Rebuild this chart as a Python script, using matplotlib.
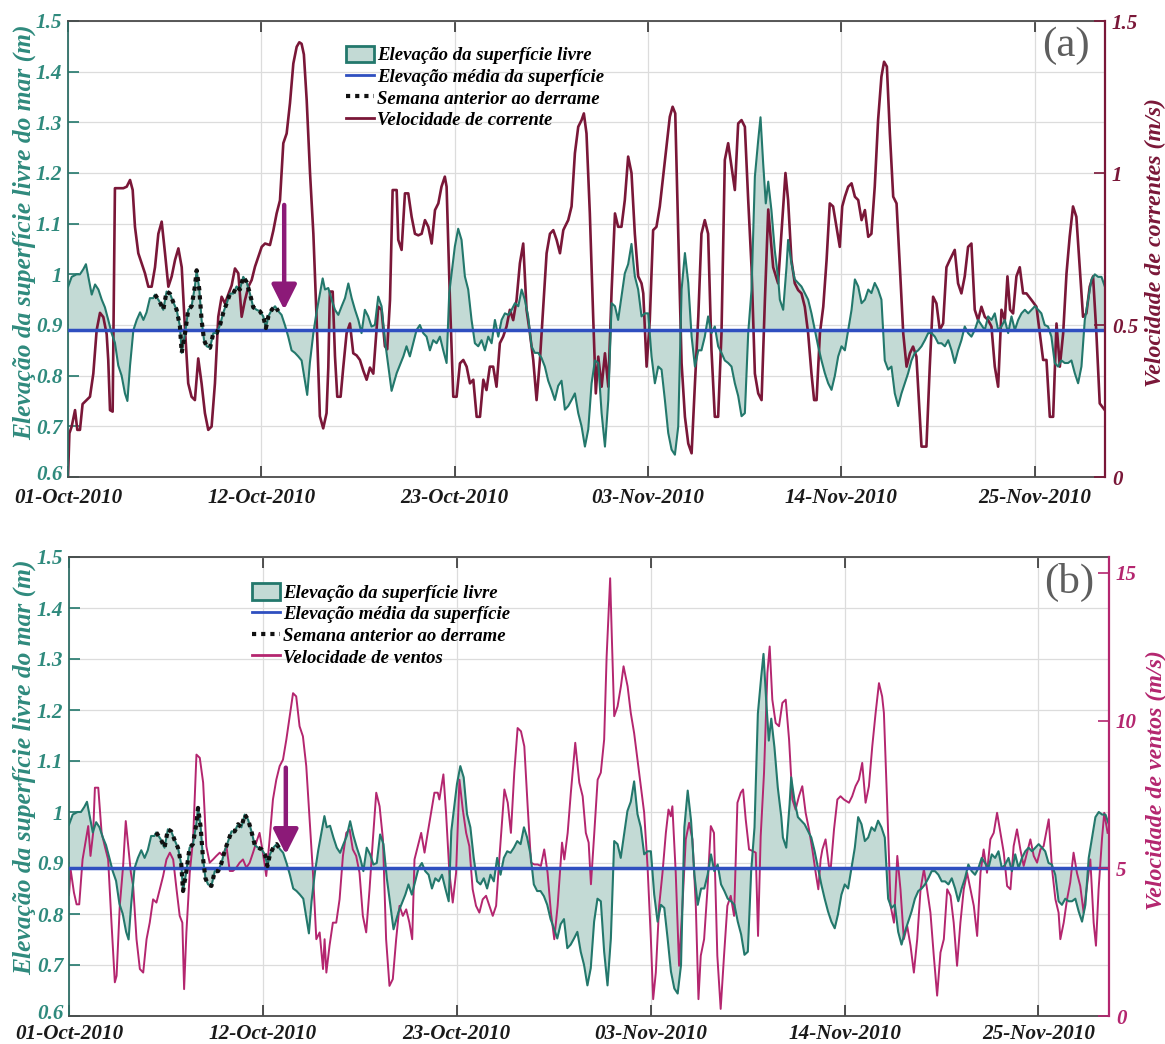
import numpy as np
import matplotlib
matplotlib.use("Agg")
import matplotlib.pyplot as plt
from matplotlib.patches import Patch
from matplotlib.lines import Line2D
from matplotlib.transforms import ScaledTranslation

# ---------------- data (days since 01-Oct-2010) ----------------
elev_days = [0.0, 0.21, 0.49, 0.68, 0.87, 1.02, 1.16, 1.35, 1.54, 1.73, 1.92, 2.10, 2.29, 2.48, 2.67, 2.86,
             3.05, 3.24, 3.38, 3.53, 3.72, 3.91, 4.10, 4.29, 4.47, 4.66, 4.85, 4.95, 5.23, 5.42, 5.61, 5.80,
             5.99, 6.18, 6.37, 6.47, 6.66, 6.84, 7.03, 7.22, 7.32, 7.47, 7.60, 7.74, 7.89, 8.08, 8.27, 8.46,
             8.65, 8.84, 9.03, 9.22, 9.40, 9.59, 9.78, 9.97, 10.16, 10.35, 10.54, 10.73, 10.92, 11.11, 11.26,
             11.40, 11.59, 11.78, 11.97, 12.15, 12.34, 12.53, 12.72, 12.91, 13.10, 13.29, 13.48, 13.61, 13.76,
             13.96, 14.14, 14.33, 14.49, 14.62, 14.81, 15.00, 15.19, 15.38, 15.57, 15.76, 15.95, 16.14, 16.33,
             16.52, 16.70, 16.89, 17.08, 17.27, 17.46, 17.65, 17.84, 18.03, 18.22, 18.41,
             18.70, 19.08, 19.26, 19.45, 19.64, 19.83, 20.02, 20.21, 20.40, 20.59, 20.78, 20.97, 21.16, 21.35,
             21.54, 21.69, 21.82, 22.01, 22.20, 22.39, 22.58, 22.77, 22.96, 23.15, 23.34, 23.53, 23.72, 23.91,
             24.10, 24.29, 24.48, 24.67, 24.86, 25.05, 25.24, 25.43, 25.62, 25.81, 25.99, 26.18, 26.37, 26.56,
             26.75, 26.94, 27.13, 27.32, 27.51, 27.70, 27.89, 28.08, 28.27, 28.46, 28.65, 28.84, 29.03, 29.22,
             29.41, 29.60, 29.79, 29.98, 30.17, 30.36, 30.55, 30.74, 30.93, 31.12, 31.30, 31.49, 31.68, 31.87,
             32.06, 32.25, 32.44, 32.63, 32.82, 33.01, 33.20, 33.39, 33.58, 33.77, 33.96, 34.15, 34.34, 34.53,
             34.72, 34.91, 35.10, 35.29, 35.48, 35.67, 35.86, 36.04, 36.23, 36.42, 36.61, 36.80, 36.99, 37.18,
             37.37, 37.56, 37.75, 37.94, 38.13, 38.32, 38.51, 38.70, 38.89, 39.08, 39.27, 39.40, 39.55, 39.70,
             39.84, 40.02, 40.21, 40.41,
             40.50, 40.69, 40.88, 40.97, 41.16, 41.35, 41.54, 41.73, 41.92, 42.11, 42.30, 42.49, 42.68, 42.87,
             43.06, 43.25, 43.44, 43.63, 43.82, 44.01, 44.20, 44.39, 44.58, 44.77, 44.96, 45.15, 45.34, 45.53,
             45.71, 45.90, 46.09, 46.28, 46.47, 46.66, 46.85, 47.04, 47.23, 47.42, 47.61, 47.80, 47.99, 48.18,
             48.37, 48.56, 48.75, 48.94, 49.13, 49.32, 49.51, 49.70, 49.89, 50.08, 50.27, 50.45, 50.64, 50.83,
             51.02, 51.21, 51.40, 51.59, 51.78, 51.97, 52.16, 52.35, 52.54, 52.73, 52.92, 53.11, 53.30, 53.49,
             53.68, 53.87, 54.06, 54.25, 54.44, 54.63, 54.82, 55.01, 55.20, 55.38, 55.57, 55.76, 55.95, 56.14,
             56.33, 56.52, 56.71, 56.90, 57.09, 57.28, 57.47, 57.66, 57.85, 58.04, 58.23, 58.42, 58.61, 58.80,
             58.99]
elev_m = [0.975, 0.995, 1.0, 1.0, 1.01, 1.02, 0.995, 0.96, 0.98, 0.97, 0.95, 0.935, 0.91, 0.884, 0.865, 0.82,
          0.80, 0.765, 0.75, 0.82, 0.89, 0.91, 0.925, 0.91, 0.925, 0.953, 0.953, 0.96, 0.945, 0.93, 0.966, 0.962,
          0.945, 0.93, 0.897, 0.845, 0.884, 0.93, 0.937, 0.976, 1.008, 0.97, 0.91, 0.87, 0.858, 0.855, 0.884, 0.884,
          0.90, 0.925, 0.943, 0.962, 0.962, 0.976, 0.97, 0.995, 0.985, 0.962, 0.935, 0.93, 0.927, 0.917, 0.894,
          0.917, 0.93, 0.937, 0.927, 0.92, 0.90, 0.877, 0.85, 0.845, 0.838, 0.83, 0.79, 0.762, 0.825,
          0.884, 0.925, 0.962, 0.992, 0.97, 0.973, 0.95, 0.93, 0.92, 0.937, 0.953, 0.982, 0.953, 0.93,
          0.91, 0.884, 0.93, 0.917, 0.897, 0.90, 0.956, 0.937, 0.87, 0.82, 0.77,
          0.805, 0.838, 0.858, 0.838, 0.864, 0.89, 0.90, 0.884, 0.877, 0.85, 0.87, 0.864, 0.877, 0.85,
          0.825, 0.963, 1.0, 1.055, 1.09, 1.068, 0.996, 0.97, 0.91, 0.864, 0.858, 0.87, 0.85, 0.877,
          0.864, 0.91, 0.877, 0.91, 0.923, 0.92, 0.93, 0.943, 0.937, 0.97, 0.95, 0.917, 0.858, 0.845,
          0.845, 0.835, 0.818, 0.79, 0.772, 0.752, 0.78, 0.79, 0.733, 0.74, 0.752, 0.765, 0.726, 0.70,
          0.66, 0.694, 0.785, 0.83, 0.825, 0.726, 0.66, 0.752, 0.943, 0.937, 0.91, 0.956, 1.002, 1.02,
          1.06, 0.996, 0.97, 0.917, 0.923, 0.923, 0.838, 0.785, 0.818, 0.812, 0.752, 0.687, 0.654, 0.644,
          0.70, 0.97, 1.042, 0.983, 0.877, 0.818, 0.85, 0.85, 0.877, 0.917, 0.884, 0.897, 0.858, 0.845,
          0.83, 0.825, 0.818, 0.785, 0.76, 0.72, 0.726, 0.884, 0.97, 1.193, 1.265, 1.31, 1.22, 1.14,
          1.183, 1.127, 1.048, 0.99,
          0.95, 0.93, 1.015, 1.068, 1.022, 0.99, 0.983, 0.976, 0.963, 0.95, 0.923, 0.89, 0.858, 0.83,
          0.805, 0.785, 0.772, 0.80, 0.838, 0.858, 0.85, 0.89, 0.93, 0.99, 0.976, 0.943, 0.95, 0.97,
          0.963, 0.983, 0.97, 0.95, 0.83, 0.812, 0.818, 0.765, 0.74, 0.765, 0.785, 0.805, 0.83, 0.845,
          0.85, 0.858, 0.87, 0.884, 0.884, 0.877, 0.864, 0.864, 0.858, 0.87, 0.85, 0.825, 0.85, 0.87,
          0.897, 0.884, 0.877, 0.89, 0.91, 0.90, 0.89, 0.917, 0.91, 0.923, 0.89, 0.897, 0.91, 0.884,
          0.917, 0.89, 0.91, 0.923, 0.93, 0.923, 0.93, 0.937, 0.93, 0.923, 0.90, 0.897, 0.877, 0.825,
          0.818, 0.83, 0.825, 0.825, 0.83, 0.805, 0.785, 0.818, 0.91, 0.95, 0.99, 1.0, 0.995, 0.995,
          0.976]

mean_elev = 0.89

cur_days = [0.0, 0.08, 0.21, 0.40, 0.53, 0.68, 0.83, 1.06, 1.25, 1.44, 1.63, 1.82, 2.01, 2.20, 2.29, 2.39,
            2.54, 2.67, 2.86, 3.15, 3.34, 3.53, 3.68, 3.81, 4.00, 4.19, 4.38, 4.57, 4.76, 4.95, 5.14, 5.33,
            5.52, 5.71, 5.90, 6.09, 6.28, 6.47, 6.66, 6.84, 7.03, 7.22, 7.41, 7.60, 7.79, 7.98, 8.17, 8.36,
            8.55, 8.74, 8.93, 9.12, 9.31, 9.50, 9.69, 9.88, 10.07, 10.26, 10.45, 10.64, 10.83, 11.02, 11.21,
            11.49, 11.68, 11.87, 12.06, 12.25, 12.44, 12.63, 12.82, 13.01, 13.16, 13.29, 13.42, 13.58, 13.77,
            13.96, 14.14, 14.33, 14.52, 14.71, 14.81, 14.90, 15.06, 15.19, 15.32, 15.51, 15.66, 15.85, 16.04,
            16.23, 16.42, 16.61, 16.80, 16.99, 17.18, 17.37, 17.65, 17.84, 18.03, 18.16, 18.32, 18.47, 18.70,
            18.79, 18.98, 19.17, 19.36, 19.55, 19.74, 19.93, 20.12, 20.31, 20.50, 20.69, 20.88, 21.07, 21.25,
            21.44, 21.54, 21.73, 21.92, 22.11, 22.30, 22.49, 22.68, 22.87, 23.06, 23.25, 23.44, 23.63, 23.81,
            24.00, 24.19, 24.38, 24.57, 24.76, 24.95, 25.14, 25.33, 25.52, 25.71, 25.90, 26.09, 26.28, 26.47,
            26.66, 26.85, 27.04, 27.23, 27.42, 27.61, 27.80, 27.99, 28.18, 28.27, 28.46, 28.65, 28.84, 29.03,
            29.22, 29.35, 29.50, 29.69, 29.88, 30.03, 30.17, 30.36, 30.55, 30.74, 30.93, 31.12, 31.30, 31.49,
            31.68, 31.87, 32.06, 32.25, 32.44, 32.63, 32.73, 32.92, 33.10, 33.29, 33.48, 33.67, 33.86, 34.05,
            34.24, 34.40, 34.55, 34.72, 34.91, 35.10, 35.29, 35.48, 35.67, 35.86, 36.04, 36.23, 36.42, 36.61,
            36.80, 36.99, 37.18, 37.37, 37.56, 37.75, 37.94, 38.13, 38.32, 38.51, 38.70, 38.89, 39.08, 39.27,
            39.46, 39.65, 39.84, 40.12, 40.40, 40.69, 40.82, 40.97, 41.16, 41.35, 41.54, 41.73, 41.92, 42.11,
            42.30, 42.45, 42.59, 42.78, 42.97, 43.16, 43.34, 43.53, 43.72, 43.91, 44.05, 44.20, 44.39, 44.58,
            44.77, 44.96, 45.15, 45.34, 45.53, 45.71, 45.90, 46.09, 46.28, 46.43, 46.59, 46.76, 46.95, 47.14,
            47.33, 47.52, 47.71, 47.90, 48.08, 48.27, 48.56, 48.84, 49.03, 49.22, 49.41, 49.60, 49.79, 49.98,
            50.17, 50.45, 50.64, 50.83, 51.02, 51.21, 51.40, 51.59, 51.78, 51.97, 52.16, 52.35, 52.54, 52.73,
            52.92, 53.11, 53.30, 53.45, 53.60, 53.77, 53.96, 54.15, 54.34, 54.53, 54.82, 55.10, 55.29, 55.48,
            55.67, 55.86, 56.05, 56.24, 56.43, 56.62, 56.81, 56.99, 57.18, 57.37, 57.56, 57.75, 57.94, 58.13,
            58.32, 58.51, 58.70, 58.99]
cur_ms = [0.0, 0.144, 0.166, 0.22, 0.155, 0.155, 0.24, 0.253, 0.264, 0.34, 0.483, 0.54, 0.526, 0.47, 0.385, 0.22,
          0.215, 0.95, 0.95, 0.95, 0.955, 0.977, 0.944, 0.823, 0.736, 0.703, 0.67, 0.626, 0.626, 0.69, 0.80, 0.84,
          0.736, 0.626, 0.66, 0.714, 0.752, 0.69, 0.483, 0.308, 0.264, 0.253, 0.39, 0.308, 0.21, 0.155, 0.166, 0.308,
          0.527, 0.593, 0.571, 0.60, 0.63, 0.686, 0.67, 0.527, 0.582, 0.626, 0.648, 0.692, 0.725, 0.757, 0.768,
          0.763, 0.81, 0.867, 0.91, 1.098, 1.13, 1.23, 1.36, 1.415, 1.43, 1.425, 1.39, 1.24, 1.0,
          0.80, 0.527, 0.2, 0.16, 0.21, 0.36, 0.61, 0.61, 0.397, 0.264, 0.264, 0.36, 0.473, 0.505,
          0.407, 0.40, 0.385, 0.35, 0.32, 0.36, 0.34, 0.56, 0.55, 0.43, 0.42, 0.582, 0.944, 0.944,
          0.78, 0.747, 0.933, 0.933, 0.856, 0.80, 0.795, 0.80, 0.845, 0.823, 0.768, 0.878, 0.90, 0.955,
          0.988, 0.955, 0.582, 0.264, 0.264, 0.374, 0.385, 0.363, 0.308, 0.32, 0.198, 0.198, 0.32, 0.286,
          0.363, 0.363, 0.297, 0.44, 0.462, 0.495, 0.55, 0.516, 0.582, 0.703, 0.768, 0.55, 0.473, 0.385,
          0.253, 0.385, 0.56, 0.736, 0.80, 0.812, 0.78, 0.736, 0.812, 0.823, 0.845, 0.89, 1.065, 1.152,
          1.174, 1.196, 1.13, 0.867, 0.527, 0.275, 0.396, 0.297, 0.407, 0.297, 0.615, 0.867, 0.823, 0.823,
          0.911, 1.054, 1.0, 0.80, 0.66, 0.637, 0.604, 0.363, 0.516, 0.812, 0.823, 0.89, 0.988, 1.087,
          1.185, 1.218, 1.196, 0.80, 0.374, 0.198, 0.11, 0.078, 0.308, 0.527, 0.80, 0.845, 0.80, 0.418,
          0.198, 0.198, 0.473, 1.043, 1.098, 1.02, 0.944, 1.163, 1.174, 1.152, 0.911, 0.69, 0.34, 0.275,
          0.253, 0.582, 0.88, 0.69, 0.637, 0.89, 1.0, 0.911, 0.714, 0.637, 0.615, 0.604, 0.56, 0.473,
          0.34, 0.253, 0.253, 0.473, 0.56, 0.714, 0.90, 0.89, 0.823, 0.757, 0.89, 0.922, 0.955, 0.966,
          0.922, 0.911, 0.845, 0.878, 0.79, 0.80, 0.955, 1.174, 1.317, 1.366, 1.35, 1.13, 0.922, 0.90,
          0.69, 0.473, 0.363, 0.407, 0.429, 0.396, 0.10, 0.10, 0.363, 0.593, 0.571, 0.484, 0.505, 0.69,
          0.714, 0.747, 0.637, 0.604, 0.66, 0.757, 0.768, 0.55, 0.516, 0.56, 0.527, 0.516, 0.495, 0.363,
          0.297, 0.55, 0.516, 0.66, 0.55, 0.538, 0.66, 0.69, 0.604, 0.604, 0.582, 0.56, 0.473, 0.385,
          0.385, 0.198, 0.198, 0.505, 0.363, 0.473, 0.67, 0.79, 0.89, 0.856, 0.69, 0.527, 0.538, 0.626,
          0.66, 0.473, 0.242, 0.22]

wind_days = [0.0, 0.09, 0.28, 0.43, 0.58, 0.77, 0.96, 1.09, 1.22, 1.37, 1.47, 1.66, 1.85, 2.03, 2.22, 2.41,
             2.60, 2.70, 2.88, 3.07, 3.22, 3.36, 3.51, 3.64, 3.83, 4.02, 4.21, 4.40, 4.58, 4.77, 4.96, 5.15,
             5.34, 5.53, 5.72, 5.91, 6.10, 6.28, 6.43, 6.53, 6.66, 6.85, 7.04, 7.23, 7.42, 7.61, 7.79, 7.98,
             8.17, 8.36, 8.55, 8.74, 8.93, 9.12, 9.30, 9.49, 9.68, 9.87, 10.06, 10.25, 10.44, 10.62, 10.81,
             11.00, 11.19, 11.38, 11.57, 11.76, 11.95, 12.14, 12.33, 12.52, 12.71, 12.89, 13.08, 13.27, 13.46,
             13.65, 13.84, 14.03, 14.22, 14.41, 14.50, 14.60, 14.78, 14.97, 15.16, 15.35, 15.54, 15.73, 15.92,
             16.10, 16.29, 16.48, 16.67, 16.86, 17.05, 17.24, 17.43, 17.62, 17.81, 17.99, 18.18, 18.37, 18.56,
             18.75, 18.94, 19.13, 19.31, 19.47, 19.60, 19.79, 19.98, 20.17, 20.35, 20.54, 20.73, 20.92, 21.01,
             21.24, 21.39, 21.58, 21.77, 21.96, 22.15, 22.34, 22.53, 22.71, 22.90, 23.09, 23.28, 23.47, 23.66,
             23.85, 24.04, 24.23, 24.41, 24.70, 24.89, 25.07, 25.26, 25.45, 25.64, 25.83, 26.02, 26.21, 26.40,
             26.59, 26.77, 26.96, 27.15, 27.34, 27.53, 27.72, 27.97, 28.10, 28.29, 28.47, 28.72, 28.95, 29.14,
             29.32, 29.48, 29.61, 29.80, 29.99, 30.17, 30.36, 30.50, 30.61, 30.70, 30.80, 30.93, 31.12, 31.31,
             31.46, 31.69, 31.87, 32.06, 32.25, 32.44, 32.63, 32.82, 33.01, 33.14, 33.29, 33.48, 33.67, 33.86,
             34.01, 34.14, 34.23, 34.42, 34.61, 34.80, 34.99, 35.18, 35.37, 35.56, 35.71, 35.84, 36.03, 36.22,
             36.41, 36.59, 36.78, 36.97, 37.16, 37.35, 37.54, 37.73, 37.92, 38.11, 38.24, 38.39, 38.58, 38.77,
             38.96, 39.09, 39.24, 39.43, 39.62, 39.75, 39.90, 40.09, 40.28, 40.47, 40.66, 40.85, 41.04, 41.22,
             41.41, 41.60, 41.79, 41.98, 42.17, 42.36, 42.51, 42.64, 42.74, 42.92, 43.11, 43.21, 43.40, 43.59,
             43.77, 43.96, 44.25, 44.43, 44.62, 44.81, 45.00, 45.19, 45.38, 45.57, 45.76, 45.95, 46.13, 46.23,
             46.42, 46.61, 46.80, 46.99, 47.17, 47.36, 47.55, 47.74, 47.93, 48.12, 48.31, 48.50, 48.68, 48.87,
             49.06, 49.25, 49.44, 49.63, 49.82, 50.01, 50.19, 50.38, 50.57, 50.76, 50.95, 51.14, 51.33, 51.52,
             51.71, 51.89, 52.08, 52.27, 52.46, 52.65, 52.84, 53.03, 53.22, 53.41, 53.59, 53.78, 53.97, 54.16,
             54.35, 54.54, 54.73, 54.92, 55.11, 55.29, 55.58, 55.77, 55.96, 56.14, 56.24, 56.43, 56.62, 56.80,
             56.99, 57.18, 57.37, 57.56, 57.75, 57.94, 58.13, 58.26, 58.41, 58.60, 58.73, 58.92]
wind_ms = [4.1, 4.97, 4.18, 3.78, 3.78, 5.3, 5.98, 6.43, 5.42, 6.2, 7.73, 7.73, 6.2, 5.75, 5.3, 3.16,
           1.14, 1.36, 3.73, 5.08, 6.6, 5.75, 4.85, 4.4, 2.6, 1.59, 1.47, 2.6, 3.16, 3.95, 3.84, 4.29,
           4.74, 5.3, 5.53, 5.3, 4.29, 3.39, 3.16, 0.91, 2.83, 4.85, 5.98, 8.85, 8.74, 7.9, 5.75, 5.19,
           5.3, 5.42, 5.53, 5.42, 5.75, 4.91, 4.91, 5.02, 5.19, 5.3, 5.02, 5.19, 5.53, 5.87, 6.2,
           5.53, 4.74, 5.98, 7.33, 8.0, 8.46, 8.68, 9.36, 10.15, 10.93, 10.82, 9.81, 9.47, 8.46,
           6.66, 4.85, 2.6, 2.83, 1.59, 2.6, 1.47, 2.38, 3.16, 3.16, 3.95, 5.42, 6.2, 6.31,
           5.64, 5.42, 4.85, 3.39, 2.83, 4.29, 5.98, 7.56, 7.1, 5.98, 2.6, 1.02, 1.25, 2.6,
           3.73, 3.39, 3.61, 3.16, 2.6, 5.3, 5.75, 6.2, 5.53, 6.2, 6.88, 7.56, 7.56, 7.33,
           8.18, 6.88, 4.85, 3.84, 4.85, 8.0, 6.99, 6.2, 5.75, 4.29, 3.73, 3.5, 3.95, 4.07,
           3.73, 3.39, 3.73, 5.3, 7.67, 7.22, 6.2, 8.24, 9.75, 9.64, 9.13, 7.1, 5.19, 5.13,
           5.13, 5.08, 5.64, 4.85, 3.5, 2.6, 3.73, 5.87, 5.3, 6.2, 7.56, 9.25, 7.9, 7.44,
           6.2, 5.87, 4.46, 6.2, 8.0, 8.24, 9.36, 12.17, 13.64, 14.82, 12.73, 10.15, 10.48, 11.16,
           11.84, 11.16, 10.26, 9.58, 8.68, 7.78, 6.88, 5.08, 2.6, 0.57, 1.47, 3.73, 4.85, 6.2,
           6.99, 6.76, 7.1, 4.85, 1.7, 3.73, 5.98, 6.54, 5.98, 3.73, 0.57, 2.04, 2.6, 4.29,
           6.43, 6.2, 2.04, 0.24, 2.04, 3.73, 4.07, 3.39, 7.22, 7.56, 7.67, 6.66, 5.64, 5.59,
           5.53, 2.71, 6.09, 8.24, 11.61, 12.51, 10.71, 9.92, 9.81, 10.6, 10.71, 9.36, 7.33, 6.99,
           7.44, 7.78, 6.88, 6.32, 5.64, 4.85, 4.29, 5.3, 5.64, 5.98, 5.08, 4.97, 6.32, 7.33,
           7.44, 7.33, 7.22, 7.44, 7.78, 8.0, 8.57, 7.22, 7.78, 9.13, 10.26, 11.27, 10.82, 10.26,
           7.1, 3.73, 3.16, 5.42, 4.29, 2.6, 3.05, 2.38, 1.47, 2.6, 4.29, 4.97, 4.29, 3.5,
           2.04, 0.69, 2.15, 2.6, 4.29, 4.07, 3.16, 1.7, 3.16, 4.29, 4.85, 4.29, 3.73, 2.71,
           4.85, 5.64, 4.85, 5.98, 6.2, 6.88, 6.2, 5.53, 4.4, 4.29, 5.75, 6.32, 5.64, 5.08,
           5.53, 5.98, 5.42, 5.19, 5.64, 5.75, 6.66, 4.97, 3.95, 3.5, 2.6, 3.16, 3.95, 4.52,
           5.53, 4.85, 4.4, 3.5, 4.4, 5.3, 3.16, 2.38, 4.29, 5.98, 6.88, 6.2]

week_start, week_end = 4.9, 12.0     # "Semana anterior ao derrame"
spill_day = 12.3
arrow_a = (1.137, 0.93)
arrow_b = (1.087, 0.917)

tick_days = [0, 11, 22, 33, 44, 55]
tick_labels = ['01-Oct-2010', '12-Oct-2010', '23-Oct-2010', '03-Nov-2010', '14-Nov-2010', '25-Nov-2010']

# ---------------- style ----------------
FONT = 'Liberation Serif'
TEAL = '#23786c'
TEAL_TXT = '#2f8a7d'
FILL = '#c3dad5'
BLUE = '#2f4fc0'
MAROON = '#7a1738'
MAGENTA = '#b4266f'
ARROW = '#8c1a78'
GRID = '#dcdcdc'

plt.rcParams['font.family'] = [FONT, 'DejaVu Serif']

ed = np.array(elev_days)
ev = np.array(elev_m)
wk = (ed >= week_start) & (ed <= week_end)

fig = plt.figure(figsize=(11.65, 10.44), dpi=100)

def panel(rect, sp_days, sp_vals, sp_color, sp_lw, sp_ylim, sp_ticks, sp_ticklabels,
          sp_label, sp_legend, letter, arrow_vals, legend_anchor, ylab_xy, ylab2_xy, xpad):
    ax = fig.add_axes(rect)
    ax2 = ax.twinx()
    ax.set_xlim(0, 59)
    ax.set_ylim(0.6, 1.5)
    ax2.set_ylim(*sp_ylim)

    ax.fill_between(ed, ev, mean_elev, color=FILL, lw=0, zorder=1)
    ax.plot(sp_days, sp_vals, color=sp_color, lw=sp_lw, transform=ax2.transData, zorder=2)
    ax.plot(ed, ev, color=TEAL, lw=1.5, zorder=3)
    ax.axhline(mean_elev, color=BLUE, lw=2.5, zorder=4)
    ax.plot(ed[wk], ev[wk], color='#111111', lw=3, linestyle=(0, (1, 1.2)), zorder=5)
    ax.annotate('', xy=(spill_day, arrow_vals[1]), xytext=(spill_day, arrow_vals[0]),
                arrowprops=dict(arrowstyle='-|>', color=ARROW, lw=3.2, mutation_scale=38,
                                shrinkA=0, shrinkB=0), zorder=6)

    ax.set_xlim(0, 59)
    ax.set_ylim(0.6, 1.5)
    ax2.set_ylim(*sp_ylim)

    ax.set_xticks(tick_days)
    ax.set_xticklabels(tick_labels)
    ax.set_yticks(np.round(np.arange(0.6, 1.51, 0.1), 1))
    ax.set_yticklabels(['0.6', '0.7', '0.8', '0.9', '1', '1.1', '1.2', '1.3', '1.4', '1.5'])
    ax.grid(True, color=GRID, lw=0.9, zorder=0)
    ax.set_axisbelow(True)
    ax.tick_params(axis='x', direction='in', length=8, width=1.2, top=True, colors='#333333',
                   labelcolor='#1a1a1a', labelsize=15.2, pad=xpad)
    ax.tick_params(axis='y', direction='in', length=8, width=1.2, colors=TEAL,
                   labelcolor=TEAL_TXT, labelsize=15.2, right=False, pad=4)
    for lab in ax.get_xticklabels() + ax.get_yticklabels():
        lab.set_fontweight('bold')
        lab.set_fontstyle('italic')
    # lift the lowest y label a little so it clears the first date label
    low = ax.yaxis.get_major_ticks()[0].label1
    low.set_transform(low.get_transform() + ScaledTranslation(0, 3 / 72, fig.dpi_scale_trans))

    ax.set_ylabel('Elevação da superfície livre do mar (m)', color=TEAL_TXT, fontsize=18.4,
                  fontweight='bold', fontstyle='italic')
    ax.yaxis.set_label_coords(*ylab_xy)

    ax2.set_yticks(sp_ticks)
    ax2.set_yticklabels(sp_ticklabels)
    ax2.tick_params(axis='y', direction='in', length=8, width=1.2, colors=sp_color,
                    labelcolor=sp_color, labelsize=15, pad=5)
    for lab in ax2.get_yticklabels():
        lab.set_fontweight('bold')
        lab.set_fontstyle('italic')
    ax2.set_ylabel(sp_label, color=sp_color, fontsize=17.2, fontweight='bold',
                   fontstyle='italic')
    ax2.yaxis.set_label_coords(*ylab2_xy)

    for s in ['left', 'top', 'bottom']:
        ax.spines[s].set_color('#4a4a4a')
        ax.spines[s].set_linewidth(1.3)
        ax2.spines[s].set_visible(False)
    ax.spines['left'].set_color('#2f6e66')
    ax.spines['right'].set_visible(False)
    ax2.spines['right'].set_color(sp_color)
    ax2.spines['right'].set_linewidth(1.6)

    handles = [Patch(facecolor=FILL, edgecolor=TEAL, lw=2),
               Line2D([], [], color=BLUE, lw=2),
               Line2D([], [], color='#111111', lw=3, linestyle=(0, (1, 1.2))),
               Line2D([], [], color=sp_color, lw=2)]
    labels = ['Elevação da superfície livre', 'Elevação média da superfície',
              'Semana anterior ao derrame', sp_legend]
    leg = ax.legend(handles, labels, loc='upper left', bbox_to_anchor=legend_anchor,
                    frameon=False, handlelength=1.5, handleheight=1.0, handletextpad=0.15,
                    labelspacing=0.15, borderpad=0, borderaxespad=0,
                    prop=dict(family=FONT, weight='bold', style='italic', size=13.5))
    leg.set_zorder(10)

    ax.text(0.962, 0.945, letter, transform=ax.transAxes, ha='center', va='center',
            fontsize=31, color='#5e5e5e', family=FONT, zorder=10)
    return ax, ax2

panel([68/1165, 1-477/1044, 1037/1165, 456/1044], cur_days, cur_ms, MAROON, 1.9, (0, 1.5),
      [0, 0.5, 1, 1.5], ['0', '0.5', '1', '1.5'], 'Velocidade de correntes (m/s)',
      'Velocidade de corrente', '(a)', arrow_a, (0.268, 0.946), (-0.031, 0.537), (1.038, 0.515), 8)
panel([69/1165, 1-1016/1044, 1040/1165, 459/1044], wind_days, wind_ms, MAGENTA, 1.4, (0, 15.54),
      [0, 5, 10, 15], ['0', '5', '10', '15'], 'Velocidade de ventos (m/s)',
      'Velocidade de ventos', '(b)', arrow_b, (0.176, 0.9435), (-0.032, 0.543), (1.035, 0.515), 5.5)

fig.savefig('out.png', dpi=100)
